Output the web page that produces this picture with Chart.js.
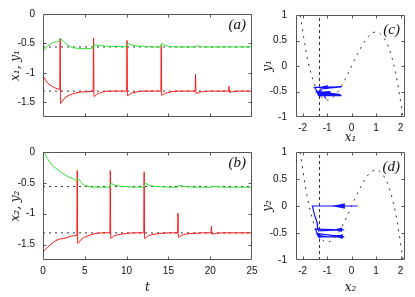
<!DOCTYPE html>
<html><head><meta charset="utf-8">
<script src="https://cdn.jsdelivr.net/npm/chart.js@4/dist/chart.umd.min.js"></script>
<style>
html,body{margin:0;padding:0;background:#fff;width:415px;height:297px;overflow:hidden}
canvas{position:absolute;left:0;top:0}
</style></head><body>
<canvas id="ca" width="415" height="297"></canvas>
<canvas id="cb" width="415" height="297"></canvas>
<canvas id="cc" width="415" height="297"></canvas>
<canvas id="cd" width="415" height="297"></canvas>
<script>
// ---------- data ----------
// panel (a): time samples, x1 (red) and y1 (green)
const tA = [0, 0.3, 0.6, 1.0, 1.5, 2.0, 2.05, 2.1, 2.5, 3.0, 3.5, 4.0, 5.0, 6.0, 6.05, 6.1, 6.5, 7.0, 8.0, 9.0,
  10.0, 10.05, 10.1, 10.5, 11.0, 12.0, 13.0, 14.1, 14.15, 14.2, 14.6, 15.1, 16.0, 17.0, 18.2, 18.25, 18.3, 18.7, 19.2,
  20.0, 21.0, 22.2, 22.25, 22.3, 22.7, 23.5, 25.0];
const x1 = [-1.05, -1.12, -1.18, -1.22, -1.26, -1.28, -0.41, -1.52, -1.44, -1.39, -1.36, -1.34, -1.32, -1.31, -0.41, -1.40, -1.36, -1.33, -1.31, -1.31,
  -1.31, -0.45, -1.39, -1.35, -1.33, -1.31, -1.31, -1.31, -0.51, -1.38, -1.35, -1.33, -1.31, -1.31, -1.31, -1.02, -1.35, -1.33, -1.32,
  -1.31, -1.31, -1.31, -1.23, -1.33, -1.32, -1.31, -1.31];
const y1 = [-0.64, -0.58, -0.54, -0.50, -0.47, -0.45, -0.41, -0.42, -0.47, -0.53, -0.57, -0.58, -0.59, -0.58, -0.58, -0.52, -0.53, -0.54, -0.55, -0.55,
  -0.56, -0.56, -0.50, -0.52, -0.54, -0.55, -0.56, -0.56, -0.56, -0.50, -0.53, -0.55, -0.56, -0.56, -0.56, -0.56, -0.54, -0.55, -0.56,
  -0.56, -0.56, -0.56, -0.56, -0.55, -0.56, -0.56, -0.56];
// panel (b): time samples, x2 (red) and y2 (green)
const tB = [0, 0.02, 0.5, 1.0, 1.5, 2.0, 2.5, 3.0, 3.5, 4.05, 4.1, 4.15, 4.6, 5.0, 5.5, 6.0, 7.0, 8.0, 8.05, 8.1,
  8.5, 9.0, 10.0, 11.0, 12.05, 12.1, 12.15, 12.6, 13.0, 14.0, 15.0, 16.1, 16.15, 16.2, 16.6, 17.0, 18.0, 19.0,
  20.1, 20.15, 20.2, 20.6, 21.5, 25.0];
const x2 = [0.25, -1.60, -1.55, -1.49, -1.44, -1.41, -1.40, -1.38, -1.36, -1.35, -0.30, -1.48, -1.41, -1.38, -1.35, -1.33, -1.31, -1.31, -0.30, -1.40,
  -1.36, -1.34, -1.32, -1.31, -1.31, -0.32, -1.40, -1.36, -1.34, -1.32, -1.31, -1.31, -0.99, -1.38, -1.35, -1.33, -1.32, -1.31,
  -1.31, -1.20, -1.33, -1.32, -1.31, -1.31];
const y2 = [0, 0, -0.10, -0.20, -0.26, -0.31, -0.36, -0.40, -0.43, -0.46, -0.44, -0.43, -0.50, -0.54, -0.56, -0.57, -0.57, -0.57, -0.57, -0.51,
  -0.53, -0.55, -0.56, -0.57, -0.57, -0.57, -0.51, -0.53, -0.55, -0.56, -0.57, -0.57, -0.57, -0.54, -0.55, -0.56, -0.57, -0.57,
  -0.57, -0.57, -0.56, -0.56, -0.57, -0.57];
// fixed point (dotted reference lines)
const fixedX = -1.31;
const fixedY = -0.56;
// cubic nullcline (dotted curve in c, d)
const cubicX = [-2.1, -1.8, -1.5, -1.2, -1.0, -0.8, -0.5, -0.2, 0.0, 0.3, 0.6, 0.8, 1.0, 1.2, 1.5, 1.8, 2.1];
const cubicY = [0.99, 0.14, -0.38, -0.62, -0.67, -0.63, -0.46, -0.20, 0.0, 0.29, 0.53, 0.63, 0.67, 0.62, 0.38, -0.14, -0.99];
// tick labels
const tTicks = [0, 5, 10, 15, 20, 25];
const tsYTicks = [0, -0.5, -1, -1.5];
const phXTicks = [-2, -1, 0, 1, 2];
const phYTicks = [1, 0.5, 0, -0.5, -1];

// ---------- styling ----------
const RED = 'rgb(255,20,20)', GREEN = 'rgb(40,225,40)', BLUE = 'rgb(20,20,255)', DOT = '#333';
const TICKFONT = {family: '"Liberation Sans", Arial, sans-serif', size: 10};
const TITLEFONT = {family: '"DejaVu Serif", "Liberation Serif", serif', size: 12, style: 'italic'};

const framePlugin = {
  id: 'frame',
  afterDatasetsDraw(chart, args, o) {
    const {ctx, chartArea: a, scales} = chart;
    ctx.save();
    ctx.strokeStyle = '#555'; ctx.lineWidth = 1;
    const L = Math.round(a.left) + 0.5, R = Math.round(a.right) - 0.5, T = Math.round(a.top) + 0.5, B = Math.round(a.bottom) - 0.5;
    ctx.beginPath();
    ctx.rect(L, T, R - L, B - T);
    const tl = 3;
    for (const t of scales.x.ticks) {
      const p = Math.round(scales.x.getPixelForValue(t.value)) + 0.5;
      if (p <= L + 1 || p >= R - 1) continue;
      ctx.moveTo(p, B); ctx.lineTo(p, B - tl);
      ctx.moveTo(p, T); ctx.lineTo(p, T + tl);
    }
    for (const t of scales.y.ticks) {
      const p = Math.round(scales.y.getPixelForValue(t.value)) + 0.5;
      if (p <= T + 1 || p >= B - 1) continue;
      ctx.moveTo(L, p); ctx.lineTo(L + tl, p);
      ctx.moveTo(R, p); ctx.lineTo(R - tl, p);
    }
    ctx.stroke();
    if (o.label) {
      ctx.fillStyle = '#111';
      ctx.font = 'italic 15px "Liberation Serif", serif';
      ctx.textAlign = 'right'; ctx.textBaseline = 'middle';
      ctx.fillText(o.label, a.right - o.dx, a.top + o.dy);
    }
    ctx.restore();
  }
};

// arrowheads on fast leftward jumps of the phase trajectory (positions derived from the data)
const arrowPlugin = {
  id: 'arrows',
  afterDatasetsDraw(chart, args, o) {
    if (!o || !o.rules) return;
    const pts = chart.data.datasets[o.dataset].data;
    const sx = chart.scales.x, sy = chart.scales.y, ctx = chart.ctx;
    ctx.save();
    ctx.fillStyle = BLUE;
    for (let i = 0; i < pts.length - 1; i++) {
      const dx = pts[i + 1].x - pts[i].x;
      const rule = o.rules.find(r => -dx >= r.min && -dx < r.max);
      if (!rule) continue;
      const x0 = sx.getPixelForValue(pts[i].x), y0 = sy.getPixelForValue(pts[i].y);
      const x1p = sx.getPixelForValue(pts[i + 1].x), y1p = sy.getPixelForValue(pts[i + 1].y);
      const tx = x0 + (x1p - x0) * rule.f, ty = y0 + (y1p - y0) * rule.f;
      const ang = Math.atan2(y1p - y0, x1p - x0);
      ctx.save();
      ctx.translate(tx, ty); ctx.rotate(ang);
      ctx.beginPath();
      ctx.moveTo(0, 0); ctx.lineTo(-rule.len, -rule.half); ctx.lineTo(-rule.len, rule.half); ctx.closePath();
      ctx.fill();
      ctx.restore();
    }
    ctx.restore();
  }
};

function zip(xs, ys) { return xs.map((v, i) => ({x: v, y: ys[i]})); }
function line(data, color, extra) {
  return Object.assign({data, showLine: true, borderColor: color, borderWidth: 1, pointRadius: 0, fill: false}, extra || {});
}

function makePanel(id, cfg) {
  const s = cfg;
  new Chart(document.getElementById(id), {
    type: 'scatter',
    data: {datasets: s.datasets},
    plugins: [framePlugin, arrowPlugin],
    options: {
      responsive: false, animation: false, events: [],
      layout: {padding: {left: s.area.l - s.yW, right: 415 - s.area.r, top: s.area.t, bottom: 297 - s.area.b - s.xH}},
      plugins: {legend: {display: false}, tooltip: {enabled: false},
        frame: {label: s.label, dx: s.ldx, dy: s.ldy}, arrows: s.arrows || {}},
      scales: {
        x: {type: 'linear', min: s.xMin, max: s.xMax,
          afterBuildTicks: sc => { sc.ticks = s.xTicks.map(v => ({value: v})); },
          afterFit: sc => { sc.height = s.xH; },
          grid: {display: false, drawTicks: false}, border: {display: false},
          ticks: {display: s.showX, padding: 5, font: TICKFONT, color: '#111', maxRotation: 0, autoSkip: false, callback: v => String(v)},
          title: {display: !!s.xTitle, text: s.xTitle, font: TITLEFONT, color: '#111', padding: {top: 0, bottom: 2}}},
        y: {type: 'linear', min: s.yMin, max: s.yMax,
          afterBuildTicks: sc => { sc.ticks = s.yTicks.map(v => ({value: v})); },
          afterFit: sc => { sc.width = s.yW; },
          grid: {display: false, drawTicks: false}, border: {display: false},
          ticks: {padding: s.yPad, font: TICKFONT, color: '#111', autoSkip: false, callback: v => String(v)},
          title: {display: true, text: s.yTitle, font: TITLEFONT, color: '#111', padding: {top: s.yTitlePad, bottom: 0}}}
      }
    }
  });
}

const dotted = {borderDash: [2, 4], borderColor: DOT};
function refH(v) { return line([{x: 0, y: v}, {x: 25, y: v}], DOT, {borderDash: [2, 4]}); }
const mono = {cubicInterpolationMode: 'monotone'};

makePanel('ca', {
  area: {l: 43, r: 252, t: 10, b: 117}, yW: 43, xH: 20, yPad: 8, yTitlePad: 9,
  xMin: 0, xMax: 25, yMin: -1.75, yMax: 0, xTicks: tTicks, yTicks: tsYTicks, showX: false,
  yTitle: 'x\u2081, y\u2081', label: '(a)', ldx: 6, ldy: 11,
  datasets: [line(zip(tA, y1), GREEN, mono), line(zip(tA, x1), RED, mono), refH(fixedY), refH(fixedX)]
});
makePanel('cb', {
  area: {l: 43, r: 252, t: 152, b: 260}, yW: 43, xH: 37, yPad: 8, yTitlePad: 9,
  xMin: 0, xMax: 25, yMin: -1.75, yMax: 0, xTicks: tTicks, yTicks: tsYTicks, showX: true, xTitle: 't',
  yTitle: 'x\u2082, y\u2082', label: '(b)', ldx: 6, ldy: 11,
  datasets: [line(zip(tB, y2), GREEN, mono), line(zip(tB, x2), RED, mono), refH(fixedY), refH(fixedX)]
});
function phaseSets(xs, ys) {
  return [
    line(zip(xs, ys), BLUE, {borderWidth: 1.2}),
    line(zip(cubicX, cubicY), DOT, {borderDash: [2, 5], cubicInterpolationMode: 'monotone'}),
    line([{x: fixedX, y: -1}, {x: fixedX, y: 1}], DOT, {borderDash: [3, 3]})
  ];
}
makePanel('cc', {
  area: {l: 296, r: 405, t: 10, b: 117}, yW: 40, xH: 30, yPad: 9, yTitlePad: 5,
  xMin: -2.27, xMax: 2.18, yMin: -1, yMax: 1, xTicks: phXTicks, yTicks: phYTicks, showX: true, xTitle: 'x\u2081',
  yTitle: 'y\u2081', label: '(c)', ldx: 5, ldy: 15,
  datasets: phaseSets(x1, y1),
  arrows: {dataset: 0, rules: [{min: 0.4, max: 5, f: 0.8, len: 8, half: 2.2}]}
});
makePanel('cd', {
  area: {l: 296, r: 405, t: 152, b: 260}, yW: 40, xH: 37, yPad: 9, yTitlePad: 5,
  xMin: -2.27, xMax: 2.18, yMin: -1, yMax: 1, xTicks: phXTicks, yTicks: phYTicks, showX: true, xTitle: 'x\u2082',
  yTitle: 'y\u2082', label: '(d)', ldx: 5, ldy: 15,
  datasets: phaseSets(x2, y2),
  arrows: {dataset: 0, rules: [{min: 1.5, max: 5, f: 0.57, len: 13, half: 2.8}, {min: 0.4, max: 1.5, f: 0.35, len: 8, half: 2.2}]}
});
</script>
</body></html>
